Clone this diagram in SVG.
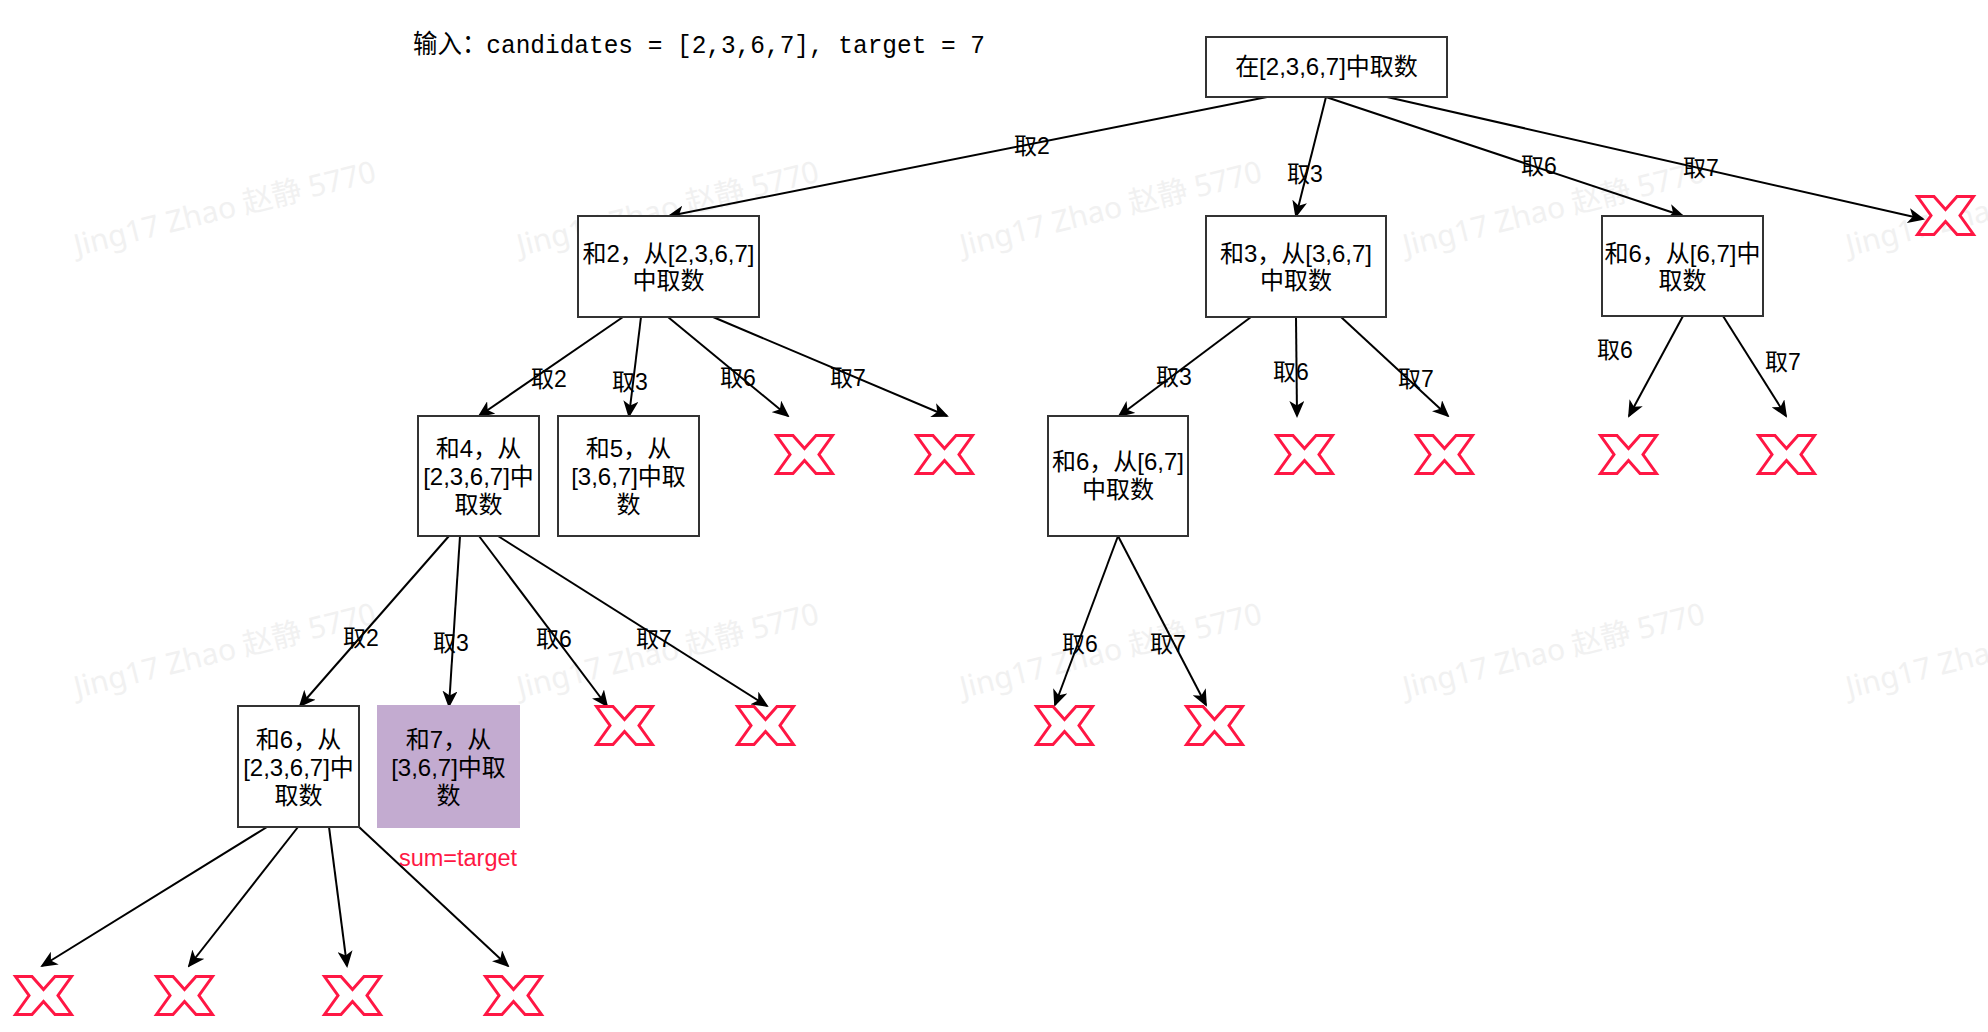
<svg xmlns="http://www.w3.org/2000/svg" xmlns:xlink="http://www.w3.org/1999/xlink" width="1988" height="1032" viewBox="0 0 1988 1032">
  <style>
    .wm text { font-family: "Noto Sans", "Noto Sans CJK SC", sans-serif; font-size: 30px; fill: #f1f1f1; }
    .box { fill: #ffffff; stroke: #333333; stroke-width: 2; }
    .hit { fill: #C3ABD0; stroke: #C3ABD0; stroke-width: 2; }
    .txt { font-family: "Liberation Sans", "Noto Sans CJK SC", sans-serif; font-size: 24px; fill: #000000; text-anchor: middle; }
    .lbl { font-family: "Liberation Sans", "Noto Sans CJK SC", sans-serif; font-size: 23px; fill: #000000; text-anchor: middle; }
    .note { font-family: "Liberation Sans", "Noto Sans CJK SC", sans-serif; font-size: 23.5px; fill: #FF1744; text-anchor: middle; }
    .title { font-family: "Liberation Mono", "Noto Sans CJK SC", monospace; font-size: 26px; fill: #000000; }
    .edge { stroke: #000000; stroke-width: 2; fill: none; marker-end: url(#arrow); }
    .redx { fill: #ffffff; stroke: #FF1744; stroke-width: 3; stroke-linejoin: miter; }
  </style>
  <defs>
    <marker id="arrow" viewBox="0 0 17 15" refX="15" refY="7.5" markerWidth="17" markerHeight="15" markerUnits="userSpaceOnUse" orient="auto">
      <path d="M0,0 L17,7.5 L0,15 L4.5,7.5 Z" fill="#000000"/>
    </marker>
    <!-- pruned-branch mark: outlined X, 59 x 41 -->
    <polygon id="xmark" class="redx" points="1.5,1.5 18,1.5 29.5,14.5 41,1.5 57.5,1.5 44,20.5 57.5,39.5 41,39.5 29.5,26.5 18,39.5 1.5,39.5 15,20.5"/>
  </defs>

  <rect x="0" y="0" width="1988" height="1032" fill="#ffffff"/>

  <!-- background watermark tiles -->
  <g class="wm">
    <text transform="translate(77 256) rotate(-14)">Jing17 Zhao 赵静 5770</text>
    <text transform="translate(520 256) rotate(-14)">Jing17 Zhao 赵静 5770</text>
    <text transform="translate(963 256) rotate(-14)">Jing17 Zhao 赵静 5770</text>
    <text transform="translate(1406 256) rotate(-14)">Jing17 Zhao 赵静 5770</text>
    <text transform="translate(1849 256) rotate(-14)">Jing17 Zhao 赵静 5770</text>
    <text transform="translate(77 698) rotate(-14)">Jing17 Zhao 赵静 5770</text>
    <text transform="translate(520 698) rotate(-14)">Jing17 Zhao 赵静 5770</text>
    <text transform="translate(963 698) rotate(-14)">Jing17 Zhao 赵静 5770</text>
    <text transform="translate(1406 698) rotate(-14)">Jing17 Zhao 赵静 5770</text>
    <text transform="translate(1849 698) rotate(-14)">Jing17 Zhao 赵静 5770</text>
  </g>

  <text class="title" x="413" y="53" textLength="572" lengthAdjust="spacingAndGlyphs">输入：candidates = [2,3,6,7], target = 7</text>

  <!-- connectors -->
  <g id="edges">
    <line class="edge" x1="1267" y1="97" x2="669" y2="216"/>
    <line class="edge" x1="1326" y1="97" x2="1296" y2="216"/>
    <line class="edge" x1="1326" y1="97" x2="1683" y2="216"/>
    <line class="edge" x1="1387" y1="97" x2="1923" y2="219"/>

    <line class="edge" x1="623" y1="317" x2="479" y2="416"/>
    <line class="edge" x1="641" y1="317" x2="629" y2="416"/>
    <line class="edge" x1="668" y1="317" x2="788" y2="416"/>
    <line class="edge" x1="713" y1="317" x2="947" y2="416"/>

    <line class="edge" x1="1251" y1="317" x2="1119" y2="416"/>
    <line class="edge" x1="1296" y1="317" x2="1297" y2="416"/>
    <line class="edge" x1="1341" y1="317" x2="1448" y2="416"/>

    <line class="edge" x1="1683" y1="316" x2="1629" y2="416"/>
    <line class="edge" x1="1723" y1="316" x2="1786" y2="416"/>

    <line class="edge" x1="449" y1="536" x2="300" y2="706"/>
    <line class="edge" x1="460" y1="536" x2="449" y2="706"/>
    <line class="edge" x1="479" y1="536" x2="607" y2="706"/>
    <line class="edge" x1="498" y1="536" x2="767" y2="706"/>

    <line class="edge" x1="1118" y1="536" x2="1055" y2="705"/>
    <line class="edge" x1="1118" y1="536" x2="1206" y2="705"/>

    <line class="edge" x1="267" y1="827" x2="42" y2="966"/>
    <line class="edge" x1="298" y1="827" x2="189" y2="966"/>
    <line class="edge" x1="329" y1="827" x2="347" y2="966"/>
    <line class="edge" x1="359" y1="827" x2="508" y2="966"/>

    <!-- edge labels -->
    <text class="lbl" x="1032" y="154">取2</text>
    <text class="lbl" x="1305" y="182">取3</text>
    <text class="lbl" x="1539" y="174">取6</text>
    <text class="lbl" x="1701" y="176">取7</text>

    <text class="lbl" x="549" y="387">取2</text>
    <text class="lbl" x="630" y="390">取3</text>
    <text class="lbl" x="738" y="386">取6</text>
    <text class="lbl" x="848" y="386">取7</text>

    <text class="lbl" x="1174" y="385">取3</text>
    <text class="lbl" x="1291" y="380">取6</text>
    <text class="lbl" x="1416" y="387">取7</text>

    <text class="lbl" x="1615" y="358">取6</text>
    <text class="lbl" x="1783" y="370">取7</text>

    <text class="lbl" x="361" y="646">取2</text>
    <text class="lbl" x="451" y="651">取3</text>
    <text class="lbl" x="554" y="647">取6</text>
    <text class="lbl" x="654" y="647">取7</text>

    <text class="lbl" x="1080" y="652">取6</text>
    <text class="lbl" x="1168" y="652">取7</text>
  </g>

  <!-- tree nodes -->
  <g id="root">
    <rect class="box" x="1206" y="37" width="241" height="60"/>
    <text class="txt" x="1326.5" y="75">在[2,3,6,7]中取数</text>
  </g>

  <g id="sum2">
    <rect class="box" x="578" y="216" width="181" height="101"/>
    <text class="txt" x="668.5" y="262">和2，从[2,3,6,7]</text>
    <text class="txt" x="668.5" y="289">中取数</text>
  </g>

  <g id="sum3">
    <rect class="box" x="1206" y="216" width="180" height="101"/>
    <text class="txt" x="1296" y="262">和3，从[3,6,7]</text>
    <text class="txt" x="1296" y="289">中取数</text>
  </g>

  <g id="sum6-top">
    <rect class="box" x="1602" y="216" width="161" height="100"/>
    <text class="txt" x="1682.5" y="262">和6，从[6,7]中</text>
    <text class="txt" x="1682.5" y="289">取数</text>
  </g>

  <g id="sum4">
    <rect class="box" x="418" y="416" width="121" height="120"/>
    <text class="txt" x="478.5" y="457">和4，从</text>
    <text class="txt" x="478.5" y="485">[2,3,6,7]中</text>
    <text class="txt" x="478.5" y="513">取数</text>
  </g>

  <g id="sum5">
    <rect class="box" x="558" y="416" width="141" height="120"/>
    <text class="txt" x="628.5" y="457">和5，从</text>
    <text class="txt" x="628.5" y="485">[3,6,7]中取</text>
    <text class="txt" x="628.5" y="513">数</text>
  </g>

  <g id="sum6-mid">
    <rect class="box" x="1048" y="416" width="140" height="120"/>
    <text class="txt" x="1118" y="470">和6，从[6,7]</text>
    <text class="txt" x="1118" y="498">中取数</text>
  </g>

  <g id="sum6-low">
    <rect class="box" x="238" y="706" width="121" height="121"/>
    <text class="txt" x="298.5" y="748">和6，从</text>
    <text class="txt" x="298.5" y="776">[2,3,6,7]中</text>
    <text class="txt" x="298.5" y="804">取数</text>
  </g>

  <g id="sum7">
    <rect class="hit" x="378" y="706" width="141" height="121"/>
    <text class="txt" x="448.5" y="748">和7，从</text>
    <text class="txt" x="448.5" y="776">[3,6,7]中取</text>
    <text class="txt" x="448.5" y="804">数</text>
    <text class="note" x="458" y="866">sum=target</text>
  </g>

  <!-- pruned branches -->
  <g id="x-r1"><use xlink:href="#xmark" x="1916" y="195"/></g>
  <g id="x-2a"><use xlink:href="#xmark" x="775" y="434"/></g>
  <g id="x-2b"><use xlink:href="#xmark" x="915" y="434"/></g>
  <g id="x-2c"><use xlink:href="#xmark" x="1275" y="434"/></g>
  <g id="x-2d"><use xlink:href="#xmark" x="1415" y="434"/></g>
  <g id="x-2e"><use xlink:href="#xmark" x="1599" y="434"/></g>
  <g id="x-2f"><use xlink:href="#xmark" x="1757" y="434"/></g>
  <g id="x-3a"><use xlink:href="#xmark" x="595" y="705"/></g>
  <g id="x-3b"><use xlink:href="#xmark" x="736" y="705"/></g>
  <g id="x-3c"><use xlink:href="#xmark" x="1035" y="705"/></g>
  <g id="x-3d"><use xlink:href="#xmark" x="1185" y="705"/></g>
  <g id="x-4a"><use xlink:href="#xmark" x="14" y="975"/></g>
  <g id="x-4b"><use xlink:href="#xmark" x="155" y="975"/></g>
  <g id="x-4c"><use xlink:href="#xmark" x="323" y="975"/></g>
  <g id="x-4d"><use xlink:href="#xmark" x="484" y="975"/></g>
</svg>
